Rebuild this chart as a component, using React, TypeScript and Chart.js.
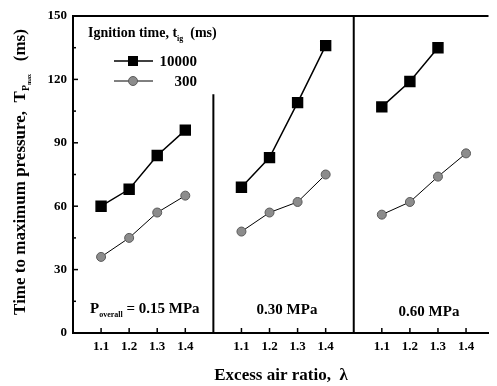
import React, { useEffect, useRef } from "react";
import { Chart, registerables } from "chart.js";
Chart.register(...registerables);

const lambdas = [1.1, 1.2, 1.3, 1.4];
const pressures = ["0.15", "0.30", "0.60"];
const ignition10000 = [
  [60, 68, 84, 96],
  [69, 83, 109, 136],
  [107, 119, 135],
];
const ignition300 = [
  [36, 45, 57, 65],
  [48, 57, 62, 75],
  [56, 62, 74, 85],
];
const yTicks = [0, 30, 60, 90, 120, 150];
const separatorTops = [113, 150];
const seriesLabels = ["10000", "300"];

const PANEL = 5;
const FONT = "'Liberation Serif', 'Times New Roman', serif";

function toX(panel: number, li: number) {
  return panel * PANEL + Math.round((lambdas[li] - 1) * 10);
}

function buildData(series: number[][]) {
  const out: { x: number; y: number | null }[] = [];
  series.forEach((vals, p) => {
    vals.forEach((v, i) => out.push({ x: toX(p, i), y: v }));
    out.push({ x: p * PANEL + 4.5, y: null });
  });
  return out;
}

type Run = { t: string; size: number; dy?: number };

function drawRuns(ctx: CanvasRenderingContext2D, runs: Run[], x: number, y: number, align: "left" | "center" | "right" = "left") {
  let total = 0;
  for (const r of runs) {
    ctx.font = `bold ${r.size}px ${FONT}`;
    total += ctx.measureText(r.t).width;
  }
  let cx = align === "left" ? x : align === "center" ? x - total / 2 : x - total;
  ctx.textAlign = "left";
  ctx.textBaseline = "alphabetic";
  for (const r of runs) {
    ctx.font = `bold ${r.size}px ${FONT}`;
    ctx.fillText(r.t, cx, y + (r.dy || 0));
    cx += ctx.measureText(r.t).width;
  }
}

const gray = "#8c8c8c";
const grayBorder = "#5a5a5a";

const decorPlugin = {
  id: "decor",
  afterDraw(chart: any) {
    const ctx: CanvasRenderingContext2D = chart.ctx;
    const { left, right, top, bottom } = chart.chartArea;
    const xs = chart.scales.x;
    const ys = chart.scales.y;
    ctx.save();
    ctx.fillStyle = "#000";
    ctx.strokeStyle = "#000";
    // top border
    ctx.lineWidth = 2;
    ctx.beginPath();
    ctx.moveTo(left, top);
    ctx.lineTo(right, top);
    ctx.stroke();
    // inward ticks y
    ctx.lineWidth = 1.5;
    for (let v = 0; v <= 150; v += 15) {
      const py = ys.getPixelForValue(v);
      const len = v % 30 === 0 ? 5 : 3;
      ctx.beginPath();
      ctx.moveTo(left, py);
      ctx.lineTo(left + len, py);
      ctx.stroke();
    }
    // inward ticks x
    pressures.forEach((_, p) => {
      lambdas.forEach((_, i) => {
        const px = xs.getPixelForValue(toX(p, i));
        ctx.beginPath();
        ctx.moveTo(px, bottom);
        ctx.lineTo(px, bottom - 5);
        ctx.stroke();
      });
    });
    // y title
    ctx.save();
    ctx.translate(25, 172);
    ctx.rotate(-Math.PI / 2);
    drawRuns(ctx, [
      { t: "Time to maximum pressure,  T", size: 17 },
      { t: "P", size: 10, dy: 4 },
      { t: "max", size: 6, dy: 6 },
      { t: "   (ms)", size: 17 },
    ], 0, 0, "center");
    ctx.restore();
    // x title
    drawRuns(ctx, [{ t: "Excess air ratio,  \u03bb", size: 17 }], 281, 380, "center");
    // legend title
    drawRuns(ctx, [
      { t: "Ignition time, t", size: 14 },
      { t: "ig", size: 8, dy: 4 },
      { t: "  (ms)", size: 14 },
    ], 88, 37, "left");
    // legend entries
    const ly = [61, 81];
    ly.forEach((yy, k) => {
      ctx.strokeStyle = "#000";
      ctx.lineWidth = k === 0 ? 1.5 : 1;
      ctx.beginPath();
      ctx.moveTo(114, yy);
      ctx.lineTo(153, yy);
      ctx.stroke();
      if (k === 0) {
        ctx.fillStyle = "#000";
        ctx.fillRect(133 - 5, yy - 5, 10, 10);
      } else {
        ctx.fillStyle = gray;
        ctx.strokeStyle = grayBorder;
        ctx.beginPath();
        ctx.arc(133, yy, 4.5, 0, Math.PI * 2);
        ctx.fill();
        ctx.stroke();
      }
      ctx.fillStyle = "#000";
      drawRuns(ctx, [{ t: seriesLabels[k], size: 15 }], 197, yy + 5, "right");
    });
    // panel labels
    drawRuns(ctx, [
      { t: "P", size: 15 },
      { t: "overall", size: 8, dy: 4 },
      { t: " = " + pressures[0] + " MPa", size: 15 },
    ], 90, 313, "left");
    drawRuns(ctx, [{ t: pressures[1] + " MPa", size: 15 }], 287, 314, "center");
    drawRuns(ctx, [{ t: pressures[2] + " MPa", size: 15 }], 429, 316, "center");
    ctx.restore();
  },
};

export default function App() {
  const ref = useRef<HTMLCanvasElement | null>(null);
  useEffect(() => {
    if (!ref.current) return;
    const separators = separatorTops.map((topV, i) => ({
      label: "sep" + i,
      data: [
        { x: (i + 1) * PANEL, y: 0 },
        { x: (i + 1) * PANEL, y: topV },
      ],
      borderColor: "#000",
      borderWidth: 2,
      pointRadius: 0,
      showLine: true,
    }));
    const chart = new Chart(ref.current, {
      type: "scatter",
      data: {
        datasets: [
          {
            label: seriesLabels[0],
            data: buildData(ignition10000),
            showLine: true,
            spanGaps: false,
            borderColor: "#000",
            borderWidth: 1.5,
            pointStyle: "rect",
            pointRadius: 7,
            backgroundColor: "#000",
            pointBorderColor: "#000",
          },
          {
            label: seriesLabels[1],
            data: buildData(ignition300),
            showLine: true,
            spanGaps: false,
            borderColor: "#000",
            borderWidth: 1,
            pointStyle: "circle",
            pointRadius: 4.5,
            pointBackgroundColor: gray,
            pointBorderColor: grayBorder,
            pointBorderWidth: 1,
          },
          ...separators,
        ] as any,
      },
      options: {
        animation: false,
        responsive: false,
        layout: { padding: { top: 16, right: 0, left: 0, bottom: 0 } },
        plugins: { legend: { display: false }, tooltip: { enabled: false } },
        scales: {
          x: {
            type: "linear",
            min: 0,
            max: 14.8,
            afterFit: (s: any) => { s.height = 53; },
            afterBuildTicks: (s: any) => {
              const t: any[] = [];
              pressures.forEach((_, p) => lambdas.forEach((_, i) => t.push({ value: toX(p, i) })));
              s.ticks = t;
            },
            grid: { display: false, drawTicks: false },
            border: { display: true, color: "#000", width: 2 },
            ticks: {
              padding: 6,
              color: "#000",
              font: { family: FONT, size: 13, weight: "bold" },
              callback: (v: any) => {
                const i = Math.round(Number(v)) % PANEL;
                return (1 + i / 10).toFixed(1);
              },
            },
          },
          y: {
            min: 0,
            max: 150,
            afterFit: (s: any) => { s.width = 73; },
            afterBuildTicks: (s: any) => { s.ticks = yTicks.map((v) => ({ value: v })); },
            grid: { display: false, drawTicks: false },
            border: { display: true, color: "#000", width: 2 },
            ticks: {
              padding: 6,
              color: "#000",
              font: { family: FONT, size: 13, weight: "bold" },
            },
          },
        },
      } as any,
      plugins: [decorPlugin],
    });
    return () => chart.destroy();
  }, []);
  return (
    <div style={{ position: "absolute", left: 0, top: 0, width: 497, height: 386, background: "#fff" }}>
      <canvas ref={ref} width={497} height={386} />
    </div>
  );
}
